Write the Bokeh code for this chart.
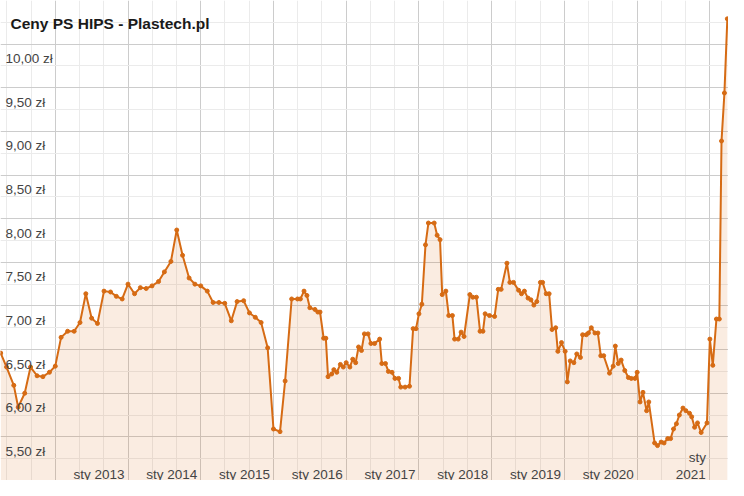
from bokeh.plotting import figure
from bokeh.models import FixedTicker, Label
from bokeh.core.properties import value
from bokeh.embed import file_html
from bokeh.resources import INLINE

# ---- data (decimal year, price in zł) ----
dates = [2011.25, 2011.33, 2011.43, 2011.49, 2011.58, 2011.66, 2011.75, 2011.83, 2011.92, 2012.00,
         2012.08, 2012.17, 2012.26, 2012.34, 2012.42, 2012.50, 2012.58, 2012.67, 2012.76, 2012.84,
         2012.92, 2013.00, 2013.09, 2013.17, 2013.25, 2013.33, 2013.42, 2013.50, 2013.59, 2013.67,
         2013.75, 2013.84, 2013.92, 2014.00, 2014.09, 2014.17, 2014.25, 2014.33, 2014.42, 2014.50,
         2014.59, 2014.67, 2014.75, 2014.83, 2014.92, 2015.00, 2015.09, 2015.16, 2015.25, 2015.33,
         2015.37, 2015.42, 2015.46, 2015.50, 2015.57, 2015.61, 2015.64, 2015.69, 2015.72, 2015.75,
         2015.80, 2015.83, 2015.87, 2015.92, 2015.96, 2016.00, 2016.05, 2016.09, 2016.13, 2016.17,
         2016.21, 2016.25, 2016.30, 2016.34, 2016.39, 2016.46, 2016.49, 2016.54, 2016.58, 2016.63,
         2016.67, 2016.72, 2016.75, 2016.81, 2016.87, 2016.92, 2016.96, 2017.00, 2017.04, 2017.09,
         2017.13, 2017.21, 2017.25, 2017.29, 2017.32, 2017.37, 2017.41, 2017.46, 2017.49, 2017.54,
         2017.58, 2017.62, 2017.70, 2017.74, 2017.79, 2017.84, 2017.88, 2017.91, 2017.97, 2018.04,
         2018.09, 2018.13, 2018.21, 2018.25, 2018.30, 2018.37, 2018.41, 2018.45, 2018.50, 2018.54,
         2018.58, 2018.62, 2018.67, 2018.70, 2018.75, 2018.79, 2018.83, 2018.88, 2018.91, 2018.96,
         2019.01, 2019.04, 2019.08, 2019.13, 2019.17, 2019.22, 2019.25, 2019.30, 2019.33, 2019.37,
         2019.42, 2019.46, 2019.50, 2019.54, 2019.62, 2019.67, 2019.70, 2019.74, 2019.78, 2019.83,
         2019.88, 2019.92, 2019.97, 2020.00, 2020.04, 2020.08, 2020.13, 2020.16, 2020.24, 2020.28,
         2020.33, 2020.37, 2020.42, 2020.46, 2020.50, 2020.54, 2020.58, 2020.63, 2020.67, 2020.72,
         2020.75, 2020.79, 2020.83, 2020.88, 2020.96, 2021.00, 2021.04, 2021.09, 2021.13, 2021.16,
         2021.20, 2021.24]

prices = [6.46, 6.30, 6.09, 5.84, 6.00, 6.30, 6.20, 6.19, 6.24, 6.31,
          6.64, 6.71, 6.71, 6.81, 7.14, 6.86, 6.80, 7.17, 7.16, 7.11,
          7.08, 7.25, 7.14, 7.21, 7.20, 7.23, 7.28, 7.39, 7.51, 7.87,
          7.58, 7.32, 7.25, 7.23, 7.17, 7.04, 7.04, 7.03, 6.83, 7.05,
          7.06, 6.92, 6.87, 6.81, 6.52, 5.59, 5.56, 6.14, 7.08, 7.08,
          7.08, 7.17, 7.12, 6.98, 6.96, 6.93, 6.93, 6.63, 6.63, 6.19,
          6.22, 6.27, 6.24, 6.33, 6.30, 6.35, 6.30, 6.39, 6.35, 6.53,
          6.49, 6.68, 6.68, 6.57, 6.57, 6.62, 6.34, 6.34, 6.25, 6.24,
          6.17, 6.17, 6.07, 6.07, 6.08, 6.74, 6.74, 6.91, 7.02, 7.70,
          7.95, 7.95, 7.81, 7.76, 7.13, 7.17, 6.89, 6.89, 6.62, 6.62,
          6.70, 6.65, 7.13, 7.10, 7.10, 6.71, 6.71, 6.91, 6.89, 6.88,
          7.19, 7.19, 7.49, 7.27, 7.27, 7.18, 7.14, 7.17, 7.09, 7.07,
          7.01, 7.05, 7.27, 7.27, 7.14, 7.14, 6.73, 6.75, 6.48, 6.58,
          6.48, 6.13, 6.37, 6.35, 6.45, 6.41, 6.67, 6.67, 6.69, 6.75,
          6.69, 6.69, 6.43, 6.43, 6.23, 6.31, 6.54, 6.34, 6.38, 6.26,
          6.18, 6.17, 6.17, 6.24, 5.90, 6.01, 5.80, 5.90, 5.43, 5.40,
          5.44, 5.43, 5.48, 5.48, 5.59, 5.65, 5.75, 5.83, 5.80, 5.77,
          5.73, 5.61, 5.66, 5.55, 5.66, 6.62, 6.32, 6.85, 6.85, 8.89,
          9.44, 10.29]

assert len(dates) == len(prices)

y_tick_values = [5.5, 6.0, 6.5, 7.0, 7.5, 8.0, 8.5, 9.0, 9.5, 10.0]
y_tick_labels = ["5,50 zł", "6,00 zł", "6,50 zł", "7,00 zł", "7,50 zł",
                 "8,00 zł", "8,50 zł", "9,00 zł", "9,50 zł", "10,00 zł"]
x_label_years = [2013, 2014, 2015, 2016, 2017, 2018, 2019, 2020]
x_labels = ["sty 2013", "sty 2014", "sty 2015", "sty 2016", "sty 2017",
            "sty 2018", "sty 2019", "sty 2020"]
last_label_year = 2021
last_label_lines = ["sty", "2021"]
grid_years = list(range(2011, 2023))

title = "Ceny PS HIPS - Plastech.pl"

X0, X1 = 2011.247, 2021.256
Y0, Y1 = 5.0, 10.5
W, H = 728, 480

LINE = "#d66b14"
FONT_NAME = "Liberation Sans"
FONT = value(FONT_NAME)

p = figure(width=W, height=H, x_range=(X0, X1), y_range=(Y0, Y1),
           output_backend="svg", toolbar_location=None, min_border=0,
           background_fill_color="white", border_fill_color="white")
p.outline_line_color = None
p.xaxis.visible = False
p.yaxis.visible = False

# gridlines
x_minor = [y + k / 3 for y in grid_years for k in (1, 2)]
p.xgrid.ticker = FixedTicker(ticks=grid_years, minor_ticks=x_minor)
p.xgrid.grid_line_color = "#cccccc"
p.xgrid.minor_grid_line_color = "#ebebeb"
y_major = [Y0 + 0.5 * i for i in range(12)]
y_minor = [v + 0.25 for v in y_major]
p.ygrid.ticker = FixedTicker(ticks=y_major, minor_ticks=y_minor)
p.ygrid.grid_line_color = "#cccccc"
p.ygrid.minor_grid_line_color = "#ebebeb"

# area + line + points
p.varea(x=dates, y1=[Y0] * len(dates), y2=prices, fill_color=LINE, fill_alpha=0.13)
p.line(dates, prices, line_color=LINE, line_width=2)
p.scatter(dates, prices, size=4, fill_color=LINE, line_color=LINE)

# y labels inside the plot
p.text(x=[X0] * len(y_tick_values), y=y_tick_values, text=y_tick_labels,
       x_offset=5, y_offset=14.5, text_font=FONT, text_font_size="13.5px",
       text_color="#444444", text_align="left", text_baseline="alphabetic")

# x labels
p.text(x=x_label_years, y=[Y0] * len(x_label_years), text=x_labels,
       x_offset=-29, y_offset=-6.5, text_font=FONT, text_font_size="13.5px",
       text_color="#444444", text_align="center", text_baseline="alphabetic")
p.text(x=[last_label_year] * 2, y=[Y0] * 2, text=last_label_lines,
       x_offset=[-4, -4], y_offset=[-23, -6.5], text_font=FONT, text_font_size="13.5px",
       text_color="#444444", text_align="right", text_baseline="alphabetic")

# title
p.add_layout(Label(x=10, y=H - 22.5, x_units="screen", y_units="screen", text=title,
                   text_font=FONT_NAME, text_font_size="15.5px", text_font_style="bold",
                   text_color="#1a1a1a", text_baseline="alphabetic", text_align="left"))

open("out.html", "w").write(file_html(p, INLINE))
